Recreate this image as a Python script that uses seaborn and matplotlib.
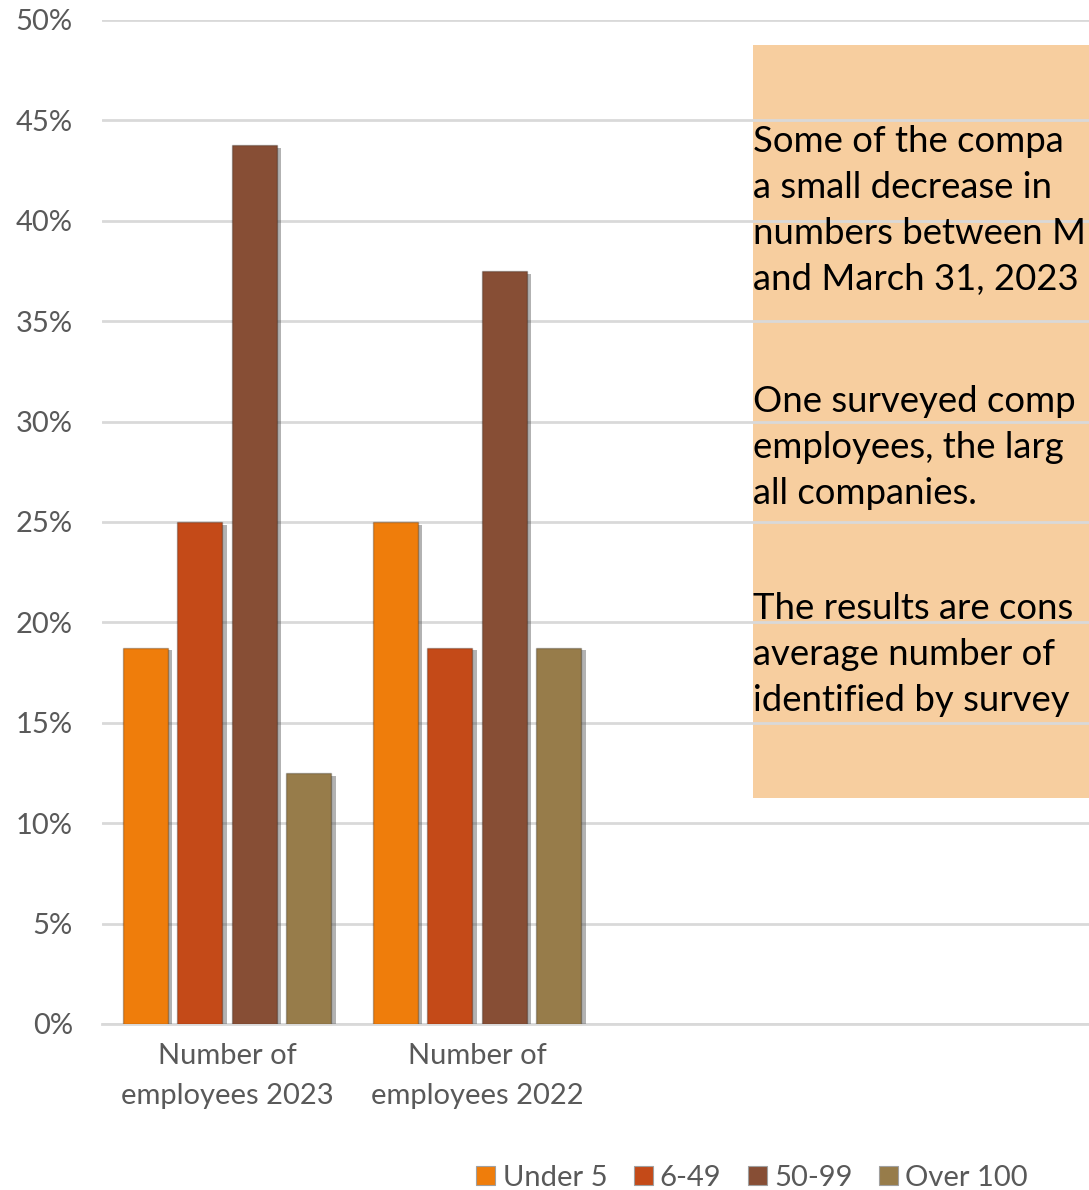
import pandas as pd
import matplotlib
matplotlib.use("Agg")
import matplotlib.pyplot as plt
import matplotlib.patheffects as pe
from matplotlib.patches import Rectangle
import seaborn as sns

# data
groups = ["Number of\nemployees 2023", "Number of\nemployees 2022"]
sizes = ["Under 5", "6-49", "50-99", "Over 100"]
share_2023 = [18.75, 25.0, 43.75, 12.5]
share_2022 = [25.0, 18.75, 37.5, 18.75]
colors = ["#EF7D0B", "#C44A18", "#874E35", "#977C4A"]

note_paragraphs = [
    ["Some of the compa", "a small decrease in", "numbers between M", "and March 31, 2023"],
    ["One surveyed comp", "employees, the larg", "all companies."],
    ["The results are cons", "average number of", "identified by survey"],
]

df = pd.DataFrame({
    "group": [groups[0]] * 4 + [groups[1]] * 4,
    "size": sizes * 2,
    "share": share_2023 + share_2022,
})

sns.set_style("white")
plt.rcParams["font.family"] = ["Lato", "DejaVu Sans"]

W, H = 1089, 1190
fig = plt.figure(figsize=(W / 100, H / 100), dpi=100)
ax = fig.add_axes([102 / W, 1 - 1024 / H, 1 - 102 / W, (1024 - 20) / H])

sns.barplot(data=df, x="group", y="share", hue="size", hue_order=sizes,
            palette=colors, saturation=1, width=0.872, gap=0.17, ax=ax,
            edgecolor=(0, 0, 0, 0.25), linewidth=1, legend=False, zorder=3)

for bar in ax.patches:
    bar.set_path_effects([pe.SimplePatchShadow(offset=(3, -2), shadow_rgbFace="#555555", alpha=0.45),
                          pe.Normal()])

ax.set_xlim(-0.5, (W - 102) / 250 - 0.5)
ax.set_ylim(0, 50)
ax.set_yticks(range(0, 51, 5))
ax.set_yticklabels([f"{v}%" for v in range(0, 51, 5)])
ax.set_axisbelow(True)
ax.grid(axis="y", color="#D9D9D9", linewidth=2)
ax.grid(axis="x", visible=False)
for side in ["top", "right", "left"]:
    ax.spines[side].set_visible(False)
ax.spines["bottom"].set_color("#D9D9D9")
ax.spines["bottom"].set_linewidth(2)
ax.tick_params(axis="y", length=0, pad=21, labelsize=21, labelcolor="#595959")
ax.tick_params(axis="x", length=0, pad=14, labelsize=21, labelcolor="#595959")
for t in ax.get_xticklabels():
    t.set_linespacing(1.65)
ax.set_xlabel("")
ax.set_ylabel("")

# text box behind gridlines
box = Rectangle((753 / W, 1 - 798 / H), 1.0, (798 - 45) / H, transform=fig.transFigure,
                facecolor="#F7CE9F", edgecolor="none", zorder=0.2, clip_on=False)
ax.add_patch(box)
for start, lines in zip([152, 412, 619], note_paragraphs):
    for i, line in enumerate(lines):
        fig.text(753 / W, 1 - (start + 46 * i) / H, line, fontsize=26.3, color="black",
                 va="baseline", ha="left")

handles = [Rectangle((0, 0), 1, 1, facecolor=c, edgecolor="#A0A0A0", linewidth=0.8) for c in colors]
fig.legend(handles, sizes, loc="center", bbox_to_anchor=(752 / W, 1 - 1178 / H), ncol=4,
           frameon=False, fontsize=21, labelcolor="#595959", handlelength=0.65, handleheight=0.65,
           handletextpad=0.25, columnspacing=0.9)

fig.savefig("out.png", dpi=100)
